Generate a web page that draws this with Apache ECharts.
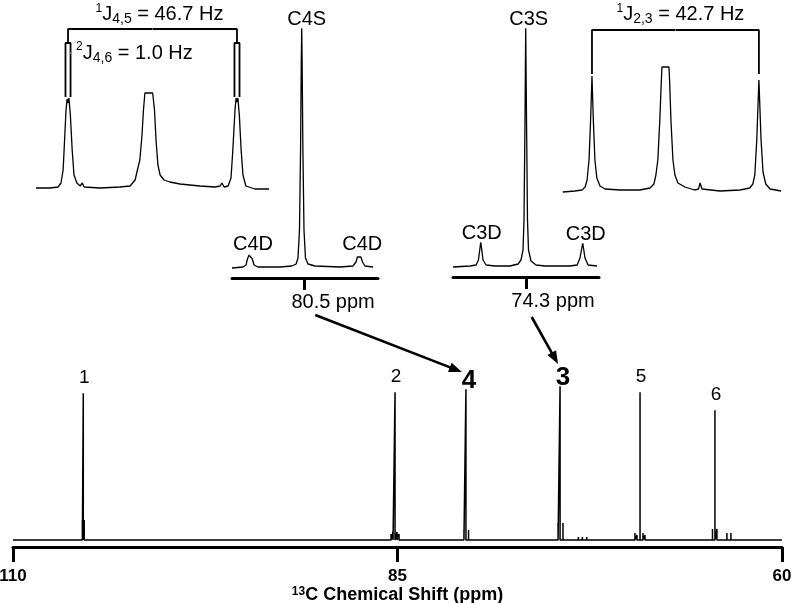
<!DOCTYPE html>
<html><head><meta charset="utf-8">
<script src="https://cdn.jsdelivr.net/npm/echarts@6/dist/echarts.min.js"></script>
<style>html,body{margin:0;padding:0;background:#fff}#c{width:801px;height:603px}</style>
</head><body><div id="c"></div>
<script>
// ---------- main 13C spectrum ----------
const axisTickValues = [110, 85, 60];
const peakLabels  = ['1', '2', '4', '3', '5', '6'];
const peakBold    = [false, false, true, true, false, false];
const peakShifts  = [105.43, 85.16, 80.55, 74.43, 69.23, 64.36];
const peakHeights = [147, 148, 151, 154, 148, 130];
const minorShifts  = [105.49, 105.37, 85.42, 85.29, 85.03, 84.90, 80.68, 80.38, 74.56, 74.24, 73.24, 72.98, 72.70, 69.56, 69.43, 69.04, 68.91, 64.52, 64.23, 63.58, 63.32];
const minorHeights = [20, 20, 6, 8, 8, 6, 10, 10, 17, 17, 3, 3, 3, 7, 5, 7, 5, 11, 11, 7, 7];

// ---------- inset: C4 (Hz offset from 80.5 ppm) ----------
const c4CenterLabel = '80.5 ppm';
const c4Trace = [[-30.9,0],[-26.2,1],[-24.9,3],[-24.3,9],[-23.6,13],[-22.8,13],[-22.2,9],[-21.5,3],[-19.8,1],[-10.4,1],[-5.3,2],[-3.5,4],[-2.7,10],[-2.05,38],[-1.6,118],[-1.28,208],[-1.1,240],[-0.94,208],[-0.6,118],[-0.13,38],[0.5,10],[1.6,4],[4.6,2],[15.3,1],[20.8,2],[22.1,6],[22.7,11],[23.5,13],[24.2,11],[24.9,6],[25.9,2],[29.4,1]];
const c4Names = ['C4D', 'C4S', 'C4D'];
const c4Pos   = [-23.2, -1.1, 23.5];
const c4Ht    = [13, 240, 13];

// ---------- inset: C3 (Hz offset from 74.3 ppm) ----------
const c3CenterLabel = '74.3 ppm';
const c3Trace = [[-30.85,0],[-23.7,1],[-21.2,2],[-20.2,7],[-19.55,19],[-19.25,25],[-18.9,19],[-18.3,7],[-17.0,2],[-13.3,1],[-7.0,1],[-3.6,3],[-2.4,7],[-1.55,17],[-1.13,47],[-0.71,147],[-0.42,239],[-0.08,147],[0.33,47],[0.75,17],[1.8,6],[3.9,2],[7.7,1],[8.1,2],[8.5,1],[18.1,1],[21.1,2],[22.3,9],[23.44,24],[24.4,9],[25.7,2],[29.4,1]];
const c3Names = ['C3D', 'C3S', 'C3D'];
const c3Pos   = [-19.25, -0.42, 23.44];
const c3Ht    = [25, 239, 24];

// ---------- inset: C4 doublet expansion (Hz) ----------
const j45Trace = [[-32.2,1],[-28.3,1],[-26.1,2],[-25.3,6],[-24.7,19],[-24.3,49],[-23.9,79],[-23.6,90],[-23.35,86],[-23.1,91],[-22.7,74],[-22.2,39],[-21.7,14],[-20.9,6],[-20.0,3],[-19.4,6],[-18.9,2],[-14.5,1],[-9.0,2],[-6.2,3],[-4.8,9],[-4.3,17],[-3.5,29],[-2.9,54],[-2.5,79],[-2.1,96],[0.05,96],[0.55,79],[0.97,49],[1.5,24],[2.1,14],[3.2,9],[4.8,7],[7.6,5],[13.1,3],[17.3,2],[18.7,3],[19.2,6],[19.8,2],[20.9,3],[21.7,11],[22.2,39],[22.8,79],[23.1,91],[23.35,87],[23.6,91],[24.0,74],[24.5,39],[25.0,14],[25.8,3],[28.3,0],[32.2,0]];
const j45Lines = [-23.35, 23.35];
const j45 = { sup: '1', sub: '4,5', value: '46.7 Hz' };
const j46 = { sup: '2', sub: '4,6', value: '1.0 Hz' };

// ---------- inset: C3 doublet expansion (Hz) ----------
const j23Trace = [[-28.8,0],[-25.7,1],[-23.9,2],[-23.1,5],[-22.6,12],[-22.1,32],[-21.7,72],[-21.35,116],[-21.0,72],[-20.6,32],[-20.1,14],[-19.3,6],[-18.0,3],[-14.2,2],[-9.1,2],[-6.5,4],[-5.5,8],[-5.0,17],[-4.5,32],[-4.0,72],[-3.6,112],[-3.45,125],[-1.66,125],[-1.5,112],[-1.15,72],[-0.64,32],[-0.13,17],[0.64,9],[2.4,5],[4.9,2],[5.9,3],[6.3,9],[6.8,3],[11.4,1],[16.5,2],[19.0,4],[19.8,8],[20.3,17],[20.8,52],[21.35,112],[21.9,52],[22.4,20],[23.1,8],[24.2,3],[27.0,1]];
const j23Lines = [-21.35, 21.35];
const j23 = { sup: '1', sub: '2,3', value: '42.7 Hz' };

// ---------- build ----------
const SANS = 'Liberation Sans, Arial, sans-serif';
const NARROW = 'Liberation Sans Narrow, Arial Narrow, Liberation Sans, sans-serif';

const sticks = peakShifts.map((p, i) => [p, peakHeights[i]])
  .concat(minorShifts.map((p, i) => [p, minorHeights[i]]))
  .sort((a, b) => b[0] - a[0]);
const mainData = [[110, 0]];
sticks.forEach(s => { mainData.push([s[0], 0], [s[0], s[1]], [s[0], 0]); });
mainData.push([60, 0]);

function jRich(j) { return '{s|' + j.sup + '}{m|J}{b|' + j.sub + '}{m| = ' + j.value + '}'; }
const jRichStyles = {
  s: { fontSize: 12, fontFamily: SANS, color: '#000', opacity: 1, verticalAlign: 'top', lineHeight: 12 },
  m: { fontSize: 20, fontFamily: SANS, color: '#000', opacity: 1, lineHeight: 24 },
  b: { fontSize: 14, fontFamily: SANS, color: '#000', opacity: 1, verticalAlign: 'bottom', lineHeight: 14 }
};

const hiddenAxis = (g, min, max) => ({ gridIndex: g, type: 'value', min, max, show: false });

function bracket(lines, top, bottom, box) {
  const d = [[lines[0], bottom], [lines[0], top], [lines[1], top], [lines[1], bottom]];
  if (box) {
    lines.forEach(x => {
      d.push('-', [x - box.half, box.lo], [x - box.half, bottom], [x + box.half, bottom], [x + box.half, box.lo]);
    });
  }
  return d;
}

const labelSeries = (xi, pts, names, fontSize, distance, bold, offs) => ({
  type: 'scatter', xAxisIndex: xi, yAxisIndex: xi, silent: true, symbolSize: 1,
  itemStyle: { color: '#fff', opacity: 1 }, clip: false, z: 5,
  data: pts.map((p, i) => ({
    value: p, name: names[i],
    label: {
      show: true, position: 'top', formatter: '{b}', color: '#000', opacity: 1, fontFamily: SANS,
      fontSize: Array.isArray(fontSize) ? fontSize[i] : fontSize,
      fontWeight: bold && bold[i] ? 'bold' : 'normal',
      distance: Array.isArray(distance) ? distance[i] : distance,
      offset: offs ? offs[i] : [0, 0]
    }
  }))
});

const lineS = (xi, data, w) => ({
  type: 'line', xAxisIndex: xi, yAxisIndex: xi, data, symbol: 'none', silent: true, z: 3,
  lineStyle: { color: '#000', width: w }, clip: false, connectNulls: false
});

const insetAxis = (g, min, max, labelAt, text) => ({
  gridIndex: g, type: 'value', min, max, offset: 10,
  axisLine: { show: true, onZero: false, lineStyle: { color: '#000', width: 3 } },
  axisTick: { show: true, customValues: [0], length: 12, lineStyle: { color: '#000', width: 3 } },
  axisLabel: { show: true, customValues: [labelAt], formatter: () => text, margin: 14, fontSize: 20, fontFamily: SANS, color: '#000' },
  splitLine: { show: false }
});

const chart = echarts.init(document.getElementById('c'), null, { renderer: 'canvas' });
chart.setOption({
  animation: false,
  backgroundColor: '#fff',
  grid: [
    { left: 13, right: 19, top: 380, bottom: 63, outerBoundsMode: 'none' },
    { left: 232, top: 20, width: 146, height: 248, outerBoundsMode: 'none' },
    { left: 453, top: 20, width: 146, height: 247, outerBoundsMode: 'none' },
    { left: 36, top: 0, width: 233, height: 189, outerBoundsMode: 'none' },
    { left: 563, top: 0, width: 218, height: 192, outerBoundsMode: 'none' }
  ],
  xAxis: [
    {
      gridIndex: 0, type: 'value', min: 60, max: 110, inverse: true, offset: 7,
      axisLine: { show: true, onZero: false, lineStyle: { color: '#000', width: 3 } },
      axisTick: { show: true, customValues: axisTickValues, length: 15, lineStyle: { color: '#000', width: 3 } },
      axisLabel: { customValues: axisTickValues, margin: 21, fontSize: 17, fontWeight: 'bold', fontFamily: NARROW, color: '#000' },
      splitLine: { show: false },
      name: '{sup|13}{t|C Chemical Shift (ppm)}', nameLocation: 'middle', nameGap: 37,
      nameTextStyle: {
        rich: {
          sup: { fontSize: 12, fontWeight: 'bold', fontFamily: NARROW, color: '#000', verticalAlign: 'top', lineHeight: 10 },
          t: { fontSize: 18, fontWeight: 'bold', fontFamily: NARROW, color: '#000', lineHeight: 19 }
        }
      }
    },
    insetAxis(1, -30.9, 31.5, 12.3, c4CenterLabel),
    insetAxis(2, -30.85, 30.26, 11.0, c3CenterLabel),
    hiddenAxis(3, -32.2, 32.2),
    hiddenAxis(4, -28.76, 27.0)
  ],
  yAxis: [
    hiddenAxis(0, 0, 160),
    hiddenAxis(1, 0, 248),
    hiddenAxis(2, 0, 247),
    hiddenAxis(3, 0, 189),
    hiddenAxis(4, 0, 192)
  ],
  series: [
    lineS(0, mainData, 1.5),
    labelSeries(0, peakShifts.map((p, i) => [p, peakHeights[i]]), peakLabels,
      peakBold.map(b => b ? 26 : 19), peakBold.map(b => b ? -5 : 5), peakBold,
      peakBold.map(b => b ? [3, 0] : [1, 0])),
    lineS(1, c4Trace, 1.3),
    labelSeries(1, c4Pos.map((p, i) => [p, c4Ht[i]]), c4Names, 20, [0, -2, 0], null, [[3, 0], [5, 0], [3, 0]]),
    lineS(2, c3Trace, 1.3),
    labelSeries(2, c3Pos.map((p, i) => [p, c3Ht[i]]), c3Names, 20, [-2, -2, -2], null, [[1, 0], [3, 0], [3, 0]]),
    lineS(3, j45Trace, 1.3),
    lineS(3, bracket(j45Lines, 160, 146, { half: 0.7, lo: 92 }), 1.8),
    {
      type: 'scatter', xAxisIndex: 3, yAxisIndex: 3, silent: true, symbolSize: 1, itemStyle: { color: '#fff', opacity: 1 }, z: 5,
      data: [
        { value: [0, 160], label: { show: true, position: 'top', distance: 2, offset: [7, 0], opacity: 1, formatter: jRich(j45), rich: jRichStyles } },
        { value: [j45Lines[0] + 0.7, 136], label: { show: true, position: 'right', distance: 5, opacity: 1, formatter: jRich(j46), rich: jRichStyles } }
      ]
    },
    lineS(4, j23Trace, 1.3),
    lineS(4, bracket(j23Lines, 162, 118, null), 1.8),
    {
      type: 'scatter', xAxisIndex: 4, yAxisIndex: 4, silent: true, symbolSize: 1, itemStyle: { color: '#fff', opacity: 1 }, z: 5,
      data: [
        { value: [0, 162], label: { show: true, position: 'top', distance: 3, offset: [5, 0], opacity: 1, formatter: jRich(j23), rich: jRichStyles } }
      ]
    }
  ]
});

// arrows linking the insets to the assigned peaks
function arrow(from, to) {
  const dx = to[0] - from[0], dy = to[1] - from[1];
  const L = Math.hypot(dx, dy), ux = dx / L, uy = dy / L;
  const hl = 13, hw = 5;
  const bx = to[0] - ux * hl, by = to[1] - uy * hl;
  return [
    { type: 'line', shape: { x1: from[0], y1: from[1], x2: bx + ux, y2: by + uy }, style: { stroke: '#000', lineWidth: 2.6 }, silent: true },
    { type: 'polygon', shape: { points: [to, [bx - uy * hw, by + ux * hw], [bx + uy * hw, by - ux * hw]] }, style: { fill: '#000' }, silent: true }
  ];
}
const aTick = chart.convertToPixel({ gridIndex: 1 }, [0, 0]);
const bTick = chart.convertToPixel({ gridIndex: 2 }, [0, 0]);
const p4 = chart.convertToPixel({ gridIndex: 0 }, [peakShifts[2], peakHeights[2]]);
const p3 = chart.convertToPixel({ gridIndex: 0 }, [peakShifts[3], peakHeights[3]]);
chart.setOption({
  graphic: arrow([aTick[0] + 11, aTick[1] + 47], [p4[0] - 4, p4[1] - 17])
    .concat(arrow([bTick[0] + 5, bTick[1] + 50], [p3[0] - 2, p3[1] - 22]))
});
</script>
</body></html>
